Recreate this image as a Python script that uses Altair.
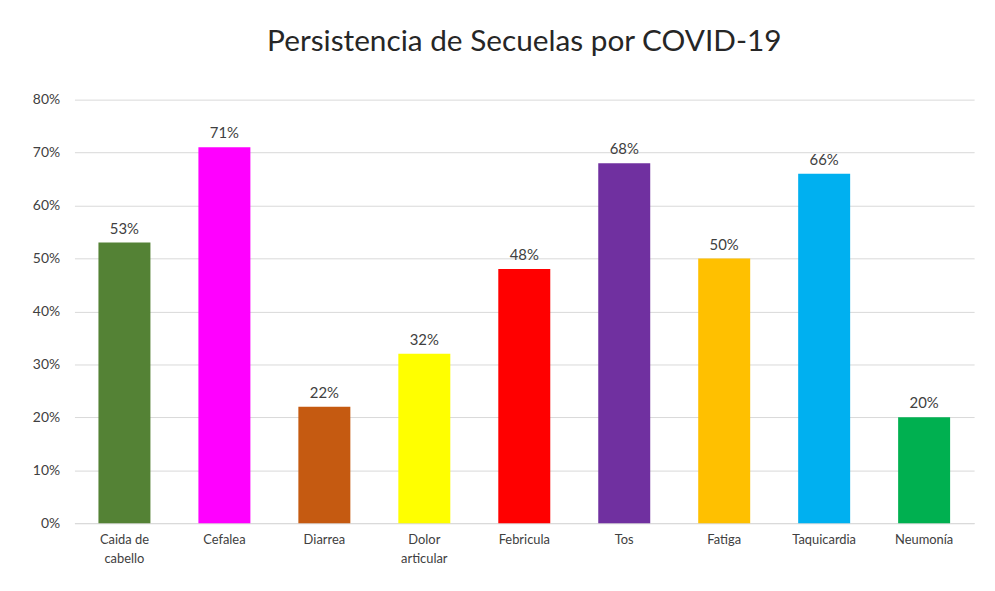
import altair as alt
import pandas as pd

categories = ["Caida de cabello", "Cefalea", "Diarrea", "Dolor articular", "Febricula",
              "Tos", "Fatiga", "Taquicardia", "Neumonía"]
values = [0.53, 0.71, 0.22, 0.32, 0.48, 0.68, 0.50, 0.66, 0.20]
colors = ["#548235", "#FF00FF", "#C55A11", "#FFFF00", "#FF0000",
          "#7030A0", "#FFC000", "#00B0F0", "#00B050"]
ytick_values = [0, 0.1, 0.2, 0.3, 0.4, 0.5, 0.6, 0.7, 0.8]

df = pd.DataFrame({"cat": categories, "val": values, "color": colors})

FONT = "Lato"

x = alt.X("cat:N", sort=categories, title=None,
          scale=alt.Scale(paddingInner=0.48, paddingOuter=0.24),
          axis=alt.Axis(labelAngle=0, labelFontSize=13, labelColor="#404040",
                        labelFont=FONT, ticks=False, domainColor="#D9D9D9",
                        labelPadding=10, labelLineHeight=20,
                        labelExpr="datum.value == 'Caida de cabello' ? ['Caida de','cabello'] : datum.value == 'Dolor articular' ? ['Dolor','articular'] : datum.value"))
y = alt.Y("val:Q", title=None,
          scale=alt.Scale(domain=[0, 0.8]),
          axis=alt.Axis(format=".0%", values=ytick_values,
                        labelFontSize=14, labelColor="#404040", labelFont=FONT,
                        ticks=False, domain=False, gridColor="#D9D9D9", labelPadding=15))

bars = alt.Chart(df).mark_bar().encode(
    x=x, y=y, color=alt.Color("color:N", scale=None)
)
text = alt.Chart(df).mark_text(dy=-14, fontSize=15, color="#404040", font=FONT).encode(
    x=x, y=y, text=alt.Text("val:Q", format=".0%")
)

chart = (bars + text).properties(
    width=907, height=427,
    autosize=alt.AutoSizeParams(type="none"),
    padding={"left": 67, "top": 90, "right": 13, "bottom": 66},
    title=alt.TitleParams("Persistencia de Secuelas por COVID-19", fontSize=30,
                          font=FONT, fontWeight="normal", color="#262626", offset=36),
).configure_view(stroke=None)

chart.save("out.html", embed_options={"renderer": "svg", "actions": False})
